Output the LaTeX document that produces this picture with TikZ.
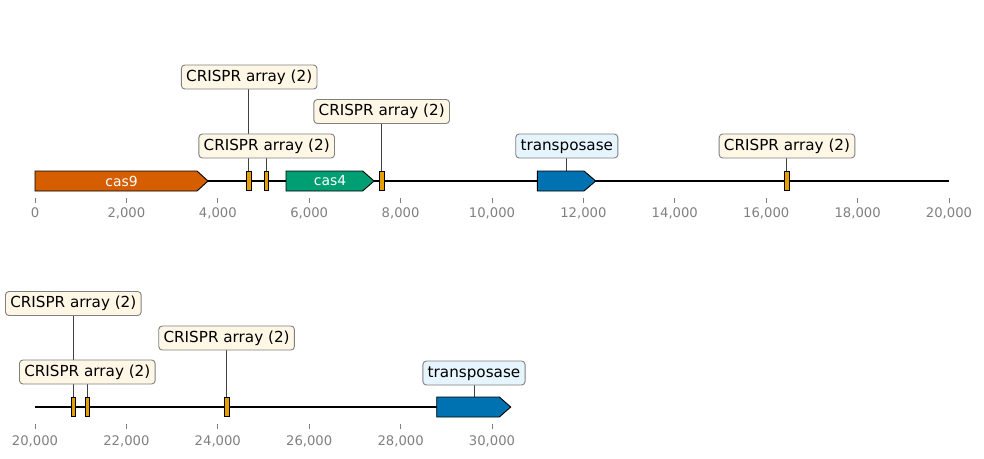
\documentclass[tikz,border=0pt]{standalone}
\usepackage{fontspec}
\setmainfont{DejaVu Sans}
\pgfdeclarelayer{back}
\pgfdeclarelayer{leaders}
\pgfsetlayers{back,leaders,main}
\definecolor{cascolA}{HTML}{D55E00}
\definecolor{cascolB}{HTML}{009E73}
\definecolor{transcol}{HTML}{0072B2}
\definecolor{crisprcol}{HTML}{E69F00}
\definecolor{crisprbg}{HTML}{FFF7E6}
\definecolor{transbg}{HTML}{E6F4FD}
\definecolor{boxedge}{HTML}{808080}
\definecolor{tickgray}{HTML}{808080}
\definecolor{leadcol}{HTML}{404040}
\tikzset{
  track/.style={line width=1.5pt, black},
  gene/.style={draw=black, line width=0.9pt, line join=miter},
  crispr/.style={draw=black, line width=0.8pt, fill=crisprcol, minimum width=4.6pt, minimum height=19.5pt, inner sep=0pt, rectangle},
  lab/.style={draw=boxedge, line width=0.9pt, rounded corners=3.5pt, inner xsep=4.8pt, inner ysep=0pt, minimum height=24pt, font=\fontsize{15.2}{18}\selectfont, text height=11.2pt, text depth=3.2pt},
  crlab/.style={lab, fill=crisprbg},
  trlab/.style={lab, fill=transbg},
  leader/.style={draw=leadcol, line width=0.7pt},
  genetext/.style={text=white, font=\fontsize{13.9}{16}\selectfont, inner sep=0pt},
  tickmark/.style={draw=tickgray, line width=0.8pt},
  ticklab/.style={text=tickgray, font=\fontsize{13.2}{16}\selectfont, inner sep=0pt},
}
\begin{document}
\begin{tikzpicture}[x=1pt, y=-1pt]
\begin{pgfonlayer}{back}
\fill[white] (0,0) rectangle (984,458);
\end{pgfonlayer}
\useasboundingbox (0,0) rectangle (984,458);

% ---------------- top track ----------------
\coordinate (ta) at (35,181);
\coordinate (tb) at (949,181);
\draw[track] (ta) -- (tb);

% ticks top
\foreach \i/\lbl in {0/0,1/{2,000},2/{4,000},3/{6,000},4/{8,000},5/{10,000},6/{12,000},7/{14,000},8/{16,000},9/{18,000},10/{20,000}}{
  \coordinate (tt\i) at ({35+\i*91.4},198);
  \draw[tickmark] (tt\i) -- ++(0,5);
  \node[ticklab] (ttl\i) at ({35+\i*91.4},213) {\lbl};
}

% genes top
\draw[gene, fill=cascolA] (35,171) -- (197,171) -- (208,181) -- (197,191) -- (35,191) -- cycle;
\node[genetext] (g1) at (121.5,181) {cas9};
\draw[gene, fill=cascolB] (286,171) -- (362.7,171) -- (374,181) -- (362.7,191) -- (286,191) -- cycle;
\node[genetext] (g2) at (330,181) {cas4};
\draw[gene, fill=transcol] (537.3,171) -- (584,171) -- (595.7,181) -- (584,191) -- (537.3,191) -- cycle;
\coordinate (g3) at (566.5,171);

% crispr top
\node[crispr] (c1) at (248.8,181) {};
\node[crispr] (c2) at (266.5,181) {};
\node[crispr] (c3) at (381.6,181) {};
\node[crispr] (c4) at (786.8,181) {};

% labels top
\node[crlab] (l1) at (249.2,77) {CRISPR array (2)};
\node[crlab] (l2) at (266.7,146) {CRISPR array (2)};
\node[crlab] (l3) at (381.7,111.5) {CRISPR array (2)};
\node[trlab] (l4) at (566.8,146) {transposase};
\node[crlab] (l5) at (787,146) {CRISPR array (2)};

\begin{pgfonlayer}{leaders}
\draw[leader] (c1.north) -- (c1.north |- l1.south);
\draw[leader] (c2.north) -- (c2.north |- l2.south);
\draw[leader] (c3.north) -- (c3.north |- l3.south);
\draw[leader] (g3) -- (g3 |- l4.south);
\draw[leader] (c4.north) -- (c4.north |- l5.south);
\end{pgfonlayer}

% ---------------- bottom track ----------------
\coordinate (ba) at (35,407);
\coordinate (bb) at (436.7,407);
\draw[track] (ba) -- (bb);

\foreach \i/\lbl in {0/{20,000},1/{22,000},2/{24,000},3/{26,000},4/{28,000},5/{30,000}}{
  \coordinate (bt\i) at ({35+\i*91.4},424);
  \draw[tickmark] (bt\i) -- ++(0,5);
  \node[ticklab] (btl\i) at ({35+\i*91.4},441.5) {\lbl};
}

\draw[gene, fill=transcol] (436.7,397) -- (499.3,397) -- (510.7,407) -- (499.3,417) -- (436.7,417) -- cycle;
\coordinate (g4) at (474,397);

\node[crispr] (c5) at (73.3,407) {};
\node[crispr] (c6) at (87.5,407) {};
\node[crispr] (c7) at (226.6,407) {};

\node[crlab] (l6) at (73.3,303.5) {CRISPR array (2)};
\node[crlab] (l7) at (87.3,372) {CRISPR array (2)};
\node[crlab] (l8) at (226.6,338) {CRISPR array (2)};
\node[trlab] (l9) at (474,373) {transposase};

\begin{pgfonlayer}{leaders}
\draw[leader] (c5.north) -- (c5.north |- l6.south);
\draw[leader] (c6.north) -- (c6.north |- l7.south);
\draw[leader] (c7.north) -- (c7.north |- l8.south);
\draw[leader] (g4) -- (g4 |- l9.south);
\end{pgfonlayer}
\end{tikzpicture}
\end{document}
